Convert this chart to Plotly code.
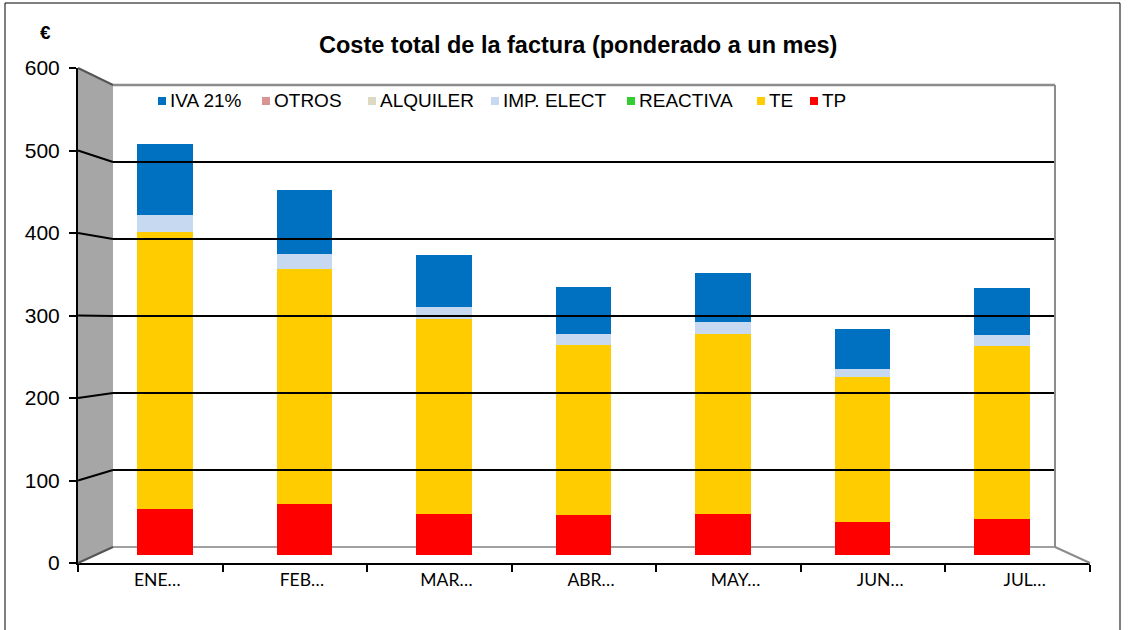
import plotly.graph_objects as go

# ---- data ----
months = ["ENE…", "FEB…", "MAR…", "ABR…", "MAY…", "JUN…", "JUL…"]
tp = [58, 64, 51, 50, 52, 42, 45]
te = [347, 295, 245, 214, 225, 181, 217]
reactiva = [0, 0, 0, 0, 0, 0, 0]
imp_elect = [22, 19, 15, 14, 15, 11, 14]
alquiler = [0, 0, 0, 0, 0, 0, 0]
otros = [0, 0, 0, 0, 0, 0, 0]
iva = [89, 80, 66, 59, 62, 50, 59]

series_names = ["TP", "TE", "REACTIVA", "IMP. ELECT", "ALQUILER", "OTROS", "IVA 21%"]
series_values = [tp, te, reactiva, imp_elect, alquiler, otros, iva]
series_colors = ["#FF0000", "#FFCC00", "#33CC33", "#C6D9F1", "#DDD9C3", "#D99594", "#0070C0"]
y_ticks = [0, 100, 200, 300, 400, 500, 600]

W, H = 1128, 630
def px(x): return x / W
def py(y): return 1 - y / H

# geometry of the pseudo-3D box (pixels)
FX0, FX1, FY0, FY1 = 78, 1090, 563, 68      # front value axis / floor front edge
BX0, BX1, BY0, BY1 = 113, 1055, 547, 85     # back wall
def yf(v): return FY0 + (FY1 - FY0) * v / 600
def yb(v): return BY0 + (BY1 - BY0) * v / 600

fig = go.Figure()
for name, vals, col in zip(series_names, series_values, series_colors):
    fig.add_trace(go.Bar(x=months, y=vals, name=name, marker=dict(color=col, line=dict(width=0)),
                         width=0.40, xaxis="x", yaxis="y", showlegend=False))

# helper traces to register category / back-wall axes
fig.add_trace(go.Scatter(x=months, y=[0] * 7, mode="markers", marker=dict(opacity=0),
                         showlegend=False, hoverinfo="skip", xaxis="x2", yaxis="y2"))
fig.add_trace(go.Scatter(x=[0], y=[0], mode="markers", marker=dict(opacity=0),
                         showlegend=False, hoverinfo="skip", xaxis="x3", yaxis="y3"))

shapes = []
# side wall
shapes.append(dict(type="path", xref="paper", yref="paper", layer="below",
                   path=f"M {px(FX0)},{py(FY1)} L {px(BX0)},{py(BY1)} L {px(BX0)},{py(BY0)} L {px(FX0)},{py(FY0)} Z",
                   fillcolor="#A6A6A6", line=dict(width=0)))
# back wall borders (gray)
shapes.append(dict(type="line", xref="paper", yref="paper", x0=px(BX0), x1=px(BX1), y0=py(BY1), y1=py(BY1),
                   line=dict(color="#8C8C8C", width=2.5)))
shapes.append(dict(type="line", xref="paper", yref="paper", x0=px(BX1), x1=px(BX1), y0=py(BY1), y1=py(BY0),
                   line=dict(color="#8C8C8C", width=2)))
shapes.append(dict(type="line", xref="paper", yref="paper", x0=px(BX0), x1=px(BX1), y0=py(BY0), y1=py(BY0),
                   line=dict(color="#A0A0A0", width=2), layer="below"))
shapes.append(dict(type="line", xref="paper", yref="paper", x0=px(BX1), x1=px(FX1), y0=py(BY0), y1=py(FY0),
                   line=dict(color="#8C8C8C", width=2)))
# side wall grid diagonals
for v in y_ticks:
    col = "#000000" if 0 < v < 600 else "#555555"
    shapes.append(dict(type="line", xref="paper", yref="paper", x0=px(FX0), x1=px(BX0),
                       y0=py(yf(v)), y1=py(yb(v)), line=dict(color=col, width=2)))
# outer border
shapes.append(dict(type="rect", xref="paper", yref="paper", x0=px(5), x1=px(1120), y0=py(3), y1=py(640),
                   line=dict(color="#000000", width=1), fillcolor="rgba(0,0,0,0)", layer="below"))

# manual legend (order as in reference)
legend_x = [158, 262, 368, 491, 627, 757, 810]
legend_y = 101
annotations = []
for name, col, lx in zip(series_names[::-1], series_colors[::-1], legend_x):
    shapes.append(dict(type="rect", xref="paper", yref="paper", x0=px(lx), x1=px(lx + 8),
                       y0=py(legend_y + 4), y1=py(legend_y - 4), fillcolor=col, line=dict(width=0)))
    annotations.append(dict(text=name, xref="paper", yref="paper", x=px(lx + 11), y=py(legend_y),
                            xanchor="left", yanchor="middle", showarrow=False,
                            font=dict(size=19), borderpad=0))

annotations += [
    dict(text="<b>Coste total de la factura (ponderado a un mes)</b>", xref="paper", yref="paper",
         x=px(578), y=py(45), xanchor="center", yanchor="middle", showarrow=False,
         font=dict(size=23.5)),
    dict(text="<b>€</b>", xref="paper", yref="paper", x=px(45), y=py(32), xanchor="center",
         yanchor="middle", showarrow=False, font=dict(size=19)),
]

bar_dom = [px(165 - 69.75), px(165 + 6 * 139.5 + 69.75)]
bar_base, bar_top = 555, 555 - 6 * 79.65

fig.update_layout(
    width=W, height=H, margin=dict(l=0, r=0, t=0, b=0, pad=0, autoexpand=False),
    paper_bgcolor="white", plot_bgcolor="rgba(0,0,0,0)",
    barmode="stack", bargap=0.6,
    font=dict(family="Liberation Sans, Arial", color="#000000"),
    showlegend=False,
    xaxis=dict(domain=bar_dom, range=[-0.5, 6.5], visible=False, anchor="y", fixedrange=True,
               automargin=False),
    yaxis=dict(domain=[py(bar_base), py(bar_top)], range=[0, 600], visible=False, anchor="x",
               fixedrange=True, automargin=False),
    xaxis2=dict(domain=[px(FX0), px(FX1)], range=[-0.5, 6.5], anchor="y2", type="category",
                showline=True, linecolor="#000000", linewidth=2, ticks="outside", ticklen=7,
                tickwidth=1.5, tickcolor="#000000", tickson="boundaries", showgrid=False,
                tickfont=dict(family="Lato, Open Sans", size=17.5), ticklabelshift=7, zeroline=False,
                automargin=False),
    yaxis2=dict(domain=[py(FY0), py(FY1)], range=[0, 600], anchor="x2", tickvals=y_ticks,
                showline=True, linecolor="#000000", linewidth=2, ticks="outside", ticklen=7,
                tickwidth=1.5, tickcolor="#000000", showgrid=False, zeroline=False,
                tickfont=dict(size=21), ticklabelstandoff=5, automargin=False),
    xaxis3=dict(domain=[px(BX0), px(BX1)], range=[0, 1], anchor="y3", visible=False, automargin=False),
    yaxis3=dict(domain=[py(BY0), py(BY1)], range=[0, 600], anchor="x3", tickvals=y_ticks[1:-1],
                showgrid=True, gridcolor="#000000", gridwidth=2, showticklabels=False,
                zeroline=False, showline=False, automargin=False),
    shapes=shapes,
    annotations=annotations,
)

fig.write_html("out.html", config={"displayModeBar": False},
               post_script="document.body.style.margin='0';")
